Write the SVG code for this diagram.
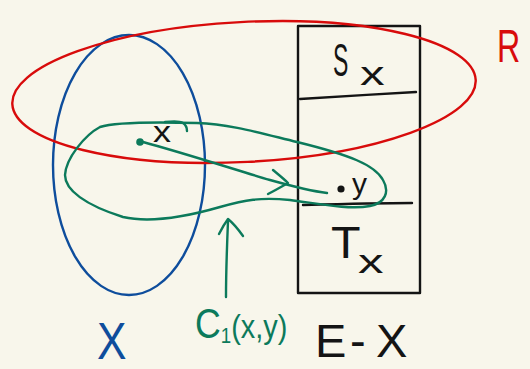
<svg xmlns="http://www.w3.org/2000/svg" width="530" height="369" viewBox="0 0 530 369">
<style>
.s{fill:none;stroke-linecap:round;stroke-linejoin:round;stroke-width:2.4}
.k{stroke:#141414}.g{stroke:#0c7a5b}.b{stroke:#0e4d9c}.r{stroke:#d80b0b}
text{font-family:"Liberation Sans",Arial,sans-serif}
.tk{fill:#141414}.tg{fill:#0c7a5b}.tb{fill:#0e4d9c}.tr{fill:#d80b0b}
</style>
<rect width="530" height="369" fill="#f8f6eb"/>
<g id="set-X">
<ellipse class="s b" cx="129" cy="165" rx="76" ry="130"/>
<text class="tb" font-size="52" transform="translate(97,359) scale(0.85,1)">X</text>
</g>
<g id="set-EX">
<rect class="s k" x="298" y="26" width="122" height="267"/>
<path class="s k" d="M300,99 C330,97 380,94 416,92"/>
<path class="s k" d="M303,205 C340,204 380,203 412,203"/>
<text class="tk" font-size="46" transform="translate(333,76) scale(0.5,1)">S</text>
<text class="tk" font-size="34" transform="translate(360,85) scale(1.45,1)">x</text>
<text class="tk" font-size="44" transform="translate(331,258) scale(1.1,1)">T</text>
<text class="tk" font-size="34" transform="translate(358,273) scale(1.5,1)">x</text>
<text class="tk" font-size="47" y="357"><tspan x="315">E</tspan><tspan x="350">-</tspan><tspan x="376">X</tspan></text>
</g>
<g id="relation-R">
<ellipse class="s r" cx="244" cy="92" rx="232" ry="70" transform="rotate(-3 244 92)"/>
<text class="tr" font-size="46" transform="translate(497,62) scale(0.7,1)">R</text>
</g>
<g id="point-x">
<circle cx="140" cy="142" r="3.8" fill="#0c7a5b"/>
<text class="tk" font-size="30" transform="translate(153,142) scale(1.2,1)">x</text>
</g>
<g id="point-y">
<circle cx="341" cy="189" r="3.6" fill="#141414"/>
<text class="tk" font-size="30" x="352" y="194">y</text>
</g>
<g id="component-C1">
<path class="s g" d="M297,142 C260,133 230,124 197,123 C160,122 115,122 100,127 C85,135 66,158 65,175 C65,190 85,205 123,217 C145,222 175,220 220,207 C245,200 260,197 290,200 C320,204 350,210 370,206 C385,203 390,192 383,180 C375,165 350,155 297,142 Z"/>
<path class="s g" d="M165,122 C173,121 180,121 183,123 C186,125 187,128 187,131"/>
<text class="tg" font-size="42" transform="translate(195,338) scale(0.85,1)">C<tspan font-size="22" dy="5">1</tspan><tspan font-size="34" dy="-5">(x,y)</tspan></text>
</g>
<g id="connectors">
<path class="s g" d="M143,142 C180,152 230,168 270,180 C295,187 310,191 327,193"/>
<path class="s g" d="M273,170 C279,175 284,179 288,183 C281,187 274,191 268,194"/>
<path class="s g" d="M226,297 C226,270 227,245 228,221"/>
<path class="s g" d="M219,234 C222,228 225,223 228,219 C233,223 238,229 243,236"/>
</g>
</svg>
